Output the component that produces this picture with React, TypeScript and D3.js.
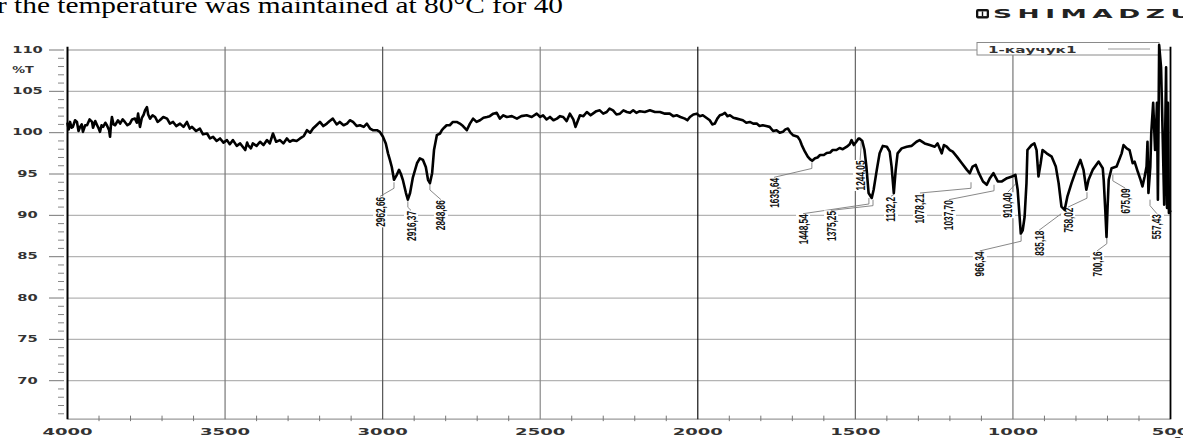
import React from 'react';
import * as d3 from 'd3';

const W = 1183;
const H = 438;

const captionText = 'r the temperature was maintained at 80°C for 40';
const brandText = 'SHIMADZU';
const legendText = '1-каучук1';
const yUnitText = '%T';
const xUnitText = 'cm-1';

const xMajorTicks = [4000, 3500, 3000, 2500, 2000, 1500, 1000, 500];
const yMajorTicks = [70, 75, 80, 85, 90, 95, 100, 105, 110];
const yTickLabels = ['70', '75', '80', '85', '90', '95', '100', '105', '110'];

// [wavenumber cm-1, transmittance %T]
const spectrum: [number, number][] = [
  [4000, 101.1], [3996, 100.4], [3992, 101.3], [3987, 100.6], [3983, 100.7], [3976, 101.5], [3970, 101.3],
  [3965, 100.2], [3960, 100.7], [3955, 101.0], [3951, 100.1], [3944, 100.9], [3938, 100.9], [3930, 101.6],
  [3922, 101.3], [3919, 100.6], [3912, 101.4], [3906, 100.9], [3901, 100.5], [3897, 100.1], [3892, 100.9],
  [3887, 100.7], [3880, 101.2], [3875, 100.9], [3868, 100.3], [3865, 99.5], [3862, 101.0], [3859, 101.9],
  [3854, 101.0], [3849, 100.9], [3840, 101.5], [3833, 101.1], [3825, 101.6], [3818, 101.3], [3810, 100.9],
  [3802, 101.1], [3795, 101.6], [3786, 101.7], [3780, 101.2], [3776, 102.3], [3773, 101.5], [3770, 100.7],
  [3764, 101.8], [3758, 102.2], [3754, 102.7], [3748, 103.1], [3744, 102.2], [3738, 101.7], [3730, 102.1],
  [3722, 101.9], [3714, 101.3], [3707, 101.5], [3696, 101.9], [3684, 101.7], [3675, 101.1], [3665, 101.3],
  [3655, 100.8], [3643, 101.1], [3632, 100.7], [3621, 101.3], [3612, 100.5], [3605, 100.7], [3592, 100.2],
  [3580, 100.5], [3570, 99.8], [3557, 99.9], [3548, 99.3], [3538, 99.5], [3527, 99.0], [3516, 99.3],
  [3505, 98.8], [3494, 99.1], [3485, 98.6], [3475, 99.1], [3463, 98.4], [3452, 98.7], [3444, 98.3],
  [3436, 97.9], [3430, 98.8], [3427, 98.5], [3418, 98.1], [3412, 98.7], [3400, 98.4], [3389, 98.9],
  [3378, 98.5], [3367, 99.1], [3358, 98.7], [3348, 99.9], [3338, 98.9], [3326, 99.1], [3315, 98.7],
  [3304, 99.3], [3295, 98.9], [3285, 99.1], [3273, 99.0], [3262, 99.3], [3250, 99.6], [3240, 100.3],
  [3230, 100.0], [3221, 100.5], [3210, 100.9], [3199, 101.3], [3188, 100.8], [3177, 101.1], [3168, 101.4],
  [3158, 101.7], [3146, 101.0], [3136, 101.3], [3124, 100.9], [3113, 101.1], [3104, 101.5], [3094, 101.3],
  [3082, 100.8], [3072, 100.9], [3060, 100.7], [3050, 101.1], [3040, 100.5], [3031, 100.3], [3018, 100.3],
  [3009, 100.1], [2999, 99.5], [2990, 98.7], [2983, 97.5], [2977, 96.7], [2971, 95.85], [2964, 94.3],
  [2955, 94.9], [2948, 95.5], [2942, 95.0], [2936, 94.3], [2926, 92.7], [2920, 91.9], [2913, 92.7],
  [2904, 94.6], [2891, 96.3], [2882, 96.9], [2872, 96.7], [2863, 95.85], [2856, 94.3], [2850, 93.9],
  [2843, 95.1], [2837, 97.9], [2828, 99.7], [2818, 99.9], [2812, 100.3], [2805, 100.6], [2797, 100.9],
  [2787, 100.9], [2777, 101.3], [2765, 101.3], [2755, 101.1], [2745, 100.8], [2733, 100.3], [2723, 101.1],
  [2713, 101.7], [2702, 101.3], [2691, 101.5], [2680, 101.8], [2669, 101.9], [2660, 102.0], [2649, 102.3],
  [2638, 102.4], [2628, 101.7], [2617, 102.1], [2606, 101.9], [2590, 102.0], [2574, 101.7], [2560, 102.0],
  [2543, 102.1], [2527, 101.9], [2511, 102.3], [2500, 101.9], [2491, 102.1], [2480, 101.6], [2469, 101.9],
  [2458, 101.5], [2447, 101.7], [2437, 102.0], [2427, 101.9], [2416, 101.4], [2406, 102.3], [2395, 101.6],
  [2388, 100.7], [2384, 101.1], [2374, 102.1], [2363, 102.0], [2352, 102.5], [2340, 102.1], [2333, 102.3],
  [2322, 102.6], [2311, 102.7], [2300, 102.3], [2289, 102.5], [2280, 102.9], [2269, 102.7], [2258, 102.2],
  [2247, 102.3], [2236, 102.7], [2225, 102.5], [2215, 102.4], [2205, 102.7], [2195, 102.4], [2184, 102.6],
  [2168, 102.5], [2152, 102.7], [2136, 102.5], [2120, 102.5], [2104, 102.3], [2089, 102.3], [2078, 102.0],
  [2067, 102.1], [2055, 101.9], [2041, 101.7], [2033, 101.5], [2025, 101.9], [2014, 102.2], [2003, 102.3],
  [1994, 102.0], [1984, 102.1], [1973, 101.8], [1962, 101.5], [1954, 101.0], [1946, 101.1], [1938, 101.7],
  [1930, 102.1], [1922, 102.2], [1914, 102.4], [1906, 102.0], [1898, 102.1], [1887, 101.8], [1876, 101.7],
  [1866, 101.6], [1857, 101.5], [1846, 101.2], [1835, 101.3], [1824, 101.1], [1813, 101.1], [1804, 100.8],
  [1794, 100.9], [1783, 100.8], [1772, 100.7], [1761, 100.2], [1750, 100.3], [1740, 100.0], [1730, 100.1],
  [1722, 100.4], [1714, 100.5], [1706, 100.0], [1698, 99.7], [1690, 99.6], [1683, 99.5], [1676, 99.1],
  [1670, 98.5], [1660, 97.7], [1651, 97.1], [1644, 96.8], [1637, 96.6], [1628, 96.9], [1620, 97.0],
  [1612, 97.3], [1600, 97.3], [1591, 97.55], [1580, 97.6], [1572, 97.9], [1560, 97.9], [1550, 98.15],
  [1540, 98.0], [1527, 98.3], [1518, 98.6], [1512, 99.1], [1505, 98.5], [1497, 98.9], [1490, 99.3],
  [1487, 99.3], [1478, 99.0], [1471, 97.9], [1465, 95.9], [1458, 92.7], [1448, 92.1], [1442, 93.1],
  [1432, 95.5], [1423, 97.5], [1413, 98.4], [1400, 98.3], [1391, 97.7], [1385, 95.9], [1378, 92.7],
  [1372, 95.5], [1366, 97.5], [1353, 98.1], [1337, 98.3], [1322, 98.4], [1306, 98.9], [1296, 99.1],
  [1280, 98.7], [1264, 98.5], [1248, 98.3], [1239, 98.7], [1226, 97.5], [1219, 98.5], [1210, 98.3],
  [1200, 97.9], [1191, 97.7], [1178, 97.1], [1162, 96.3], [1146, 95.5], [1137, 95.1], [1128, 95.9],
  [1118, 96.1], [1108, 95.1], [1095, 94.1], [1083, 93.7], [1073, 94.5], [1062, 95.1], [1048, 94.1],
  [1035, 94.1], [1019, 94.5], [1003, 94.7], [992, 94.9], [985, 93.1], [975, 87.8], [969, 88.2],
  [963, 89.8], [957, 93.9], [954, 97.9], [941, 98.5], [932, 98.7], [925, 97.9], [919, 94.7],
  [912, 96.3], [906, 97.9], [893, 97.5], [877, 97.1], [864, 95.9], [855, 93.9], [846, 91.05],
  [836, 90.65], [827, 92.3], [814, 93.9], [801, 95.3], [786, 96.7], [776, 95.5], [767, 93.1],
  [760, 94.3], [747, 95.5], [728, 96.5], [715, 95.7], [712, 94.3], [707, 90.65], [703, 87.4],
  [700, 90.65], [696, 94.3], [687, 95.7], [671, 95.9], [655, 97.5], [649, 98.5], [639, 98.1],
  [630, 97.9], [620, 96.3], [614, 96.5], [604, 95.3], [595, 94.3], [589, 93.5], [582, 94.7],
  [576, 95.9], [573, 98.9], [570, 92.7], [564, 95.9], [561, 100.0], [555, 103.6], [549, 97.9],
  [546, 100.0], [543, 103.6], [540, 91.9], [536, 110.6], [530, 107.9], [527, 103.3], [520, 91.3],
  [514, 107.9], [511, 90.9], [508, 103.6], [505, 90.3], [501, 90.5],
];

// [label, label centre wn, label top %T, peak wn, peak %T]
const peakLabels: [string, number, number, number, number][] = [
  ['2962,66', 3008, 92.3, 2964, 94.0],
  ['2916,37', 2910, 90.6, 2920, 91.7],
  ['2848,86', 2815, 91.9, 2850, 93.8],
  ['1635,64', 1758, 94.6, 1638, 96.4],
  ['1448,54', 1666, 90.2, 1457, 92.1],
  ['1375,25', 1577, 90.6, 1444, 91.9],
  ['1244,05', 1485, 96.7, 1482, 98.9],
  ['1132,2', 1387, 92.3, 1377, 92.7],
  ['1078,21', 1295, 92.7, 1133, 94.0],
  ['1037,70', 1203, 91.9, 1060, 93.7],
  ['910,40', 1016, 92.8, 990, 94.6],
  ['966,34', 1105, 85.7, 974, 87.6],
  ['835,18', 917, 88.2, 844, 91.0],
  ['758,02', 825, 91.0, 765, 92.8],
  ['700,16', 733, 85.7, 702, 87.3],
  ['675,09', 644, 93.3, 683, 94.9],
  ['557,43', 543, 90.2, 565, 91.9],
];

const gridColor: Record<number, string> = {
  4000: '#000', 3500: '#777', 3000: '#555', 2500: '#888', 2000: '#111', 1500: '#666', 1000: '#777', 500: '#000',
};

export default function App() {
  const x = d3.scaleLinear().domain([4000, 500]).range([67.5, 1170.5]);
  const y = d3.scaleLinear().domain([70, 110]).range([380.7, 50]);
  const yBottom = 65.35;
  const yTop = 110.4;
  const plotBottom = y(yBottom);
  const plotTop = y(yTop);

  const line = d3
    .line<[number, number]>()
    .x((d) => x(d[0]))
    .y((d) => y(d[1]))
    .curve(d3.curveLinear);

  const minorY = d3.range(66, 111, 1).filter((v) => v % 5 !== 0);
  const minorX = d3.range(4000, 499, -100).filter((v) => v % 500 !== 0);

  const extFont = "'DejaVu Sans', Verdana, sans-serif";

  return (
    <svg
      width={W}
      height={H}
      viewBox={`0 0 ${W} ${H}`}
      style={{ position: 'absolute', left: 0, top: 0, background: '#fff' }}
    >
      <rect x={0} y={0} width={W} height={H} fill="#fff" />
      {/* caption text cut at top */}
      <text
        x={-3}
        y={13}
        fontFamily="'Liberation Serif', 'Times New Roman', serif"
        fontSize={24}
        fill="#000"
        textLength={566}
        lengthAdjust="spacingAndGlyphs"
      >
        {captionText}
      </text>

      {/* brand */}
      <g>
        <rect x={976} y={9} width={13} height={9.5} rx={2} fill="#111" />
        <rect x={978.3} y={11.4} width={8.4} height={4.7} fill="#fff" />
        <line x1={982.5} x2={982.5} y1={11.4} y2={16.1} stroke="#111" strokeWidth={1.4} />
        <text
          transform={`translate(993,18.3) scale(2.3,1)`}
          fontFamily={extFont}
          fontWeight="bold"
          fontSize={11.5}
          fill="#222"
          letterSpacing={2.4}
        >
          {brandText}
        </text>
      </g>

      {/* horizontal grid */}
      {yMajorTicks.map((v) => (
        <line key={'hg' + v} x1={x(4000)} x2={x(500)} y1={y(v)} y2={y(v)} stroke="#b4b4b4" strokeWidth={1.3} />
      ))}
      {/* bottom axis line */}
      <line x1={x(4000)} x2={x(500)} y1={plotBottom} y2={plotBottom} stroke="#9a9a9a" strokeWidth={1.4} />

      {/* vertical grid */}
      {xMajorTicks.map((v) => (
        <line
          key={'vg' + v}
          x1={x(v)}
          x2={x(v)}
          y1={plotTop}
          y2={plotBottom}
          stroke={gridColor[v]}
          strokeWidth={v === 4000 ? 2 : v === 500 ? 1.8 : 1.2}
        />
      ))}

      {/* x minor ticks */}
      {minorX.map((v) => (
        <line key={'mx' + v} x1={x(v)} x2={x(v)} y1={plotBottom - 3.5} y2={plotBottom + 2} stroke="#777" strokeWidth={1} />
      ))}
      {/* y ticks */}
      {yMajorTicks.map((v) => (
        <line key={'my' + v} x1={49} x2={64} y1={y(v)} y2={y(v)} stroke="#777" strokeWidth={1} />
      ))}
      {minorY.map((v) => (
        <line key={'ny' + v} x1={58} x2={64} y1={y(v)} y2={y(v)} stroke="#888" strokeWidth={1} />
      ))}

      {/* y tick labels */}
      {yMajorTicks.map((v, i) => (
        <text
          key={'yl' + v}
          transform={`translate(27.5,${y(v)}) scale(1.75,1)`}
          textAnchor="middle"
          dominantBaseline="central"
          fontFamily={extFont}
          fontWeight="bold"
          fontSize={8.4}
          fill="#333"
        >
          {yTickLabels[i]}
        </text>
      ))}
      <text
        transform={`translate(23,${y(107.5)}) scale(1.6,1)`}
        textAnchor="middle"
        dominantBaseline="central"
        fontFamily={extFont}
        fontWeight="bold"
        fontSize={8}
        fill="#333"
      >
        {yUnitText}
      </text>

      {/* x tick labels */}
      {xMajorTicks.map((v) => (
        <text
          key={'xl' + v}
          transform={`translate(${x(v)},435) scale(2.05,1)`}
          textAnchor="middle"
          fontFamily={extFont}
          fontWeight="bold"
          fontSize={8.8}
          fill="#333"
        >
          {v}
        </text>
      ))}
      <text
        transform={`translate(1163,444) scale(1.7,1)`}
        textAnchor="middle"
        fontFamily={extFont}
        fontWeight="bold"
        fontSize={9}
        fill="#333"
      >
        {xUnitText}
      </text>

      {/* legend */}
      <rect x={977} y={42.5} width={182} height={12.5} fill="#fff" stroke="#8a8a8a" strokeWidth={1} />
      <text
        transform={`translate(988,52.5) scale(1.9,1)`}
        fontFamily={extFont}
        fontWeight="bold"
        fontSize={8}
        fill="#333"
      >
        {legendText}
      </text>
      <line x1={1108} x2={1150} y1={49} y2={49} stroke="#999" strokeWidth={1.2} />

      {/* peak labels */}
      {peakLabels.map(([t, lw, lt, pw, pt]) => {
        const lx = x(lw);
        const ly = y(lt);
        const px = x(pw);
        const py = y(pt);
        const len = t.length >= 7 ? 30 : 25;
        const elbow = Math.min(py + 6, ly - 2);
        return (
          <g key={'pl' + t}>
            <rect x={lx - 7} y={ly} width={14} height={len + 1} fill="#fff" />
            <path
              d={`M${px},${py}L${px},${elbow}L${lx},${ly}`}
              fill="none"
              stroke="#7a7a7a"
              strokeWidth={0.9}
            />
            <text
              transform={`translate(${lx},${ly + 0.5}) rotate(-90)`}
              textAnchor="end"
              dominantBaseline="central"
              fontFamily="'Liberation Sans Narrow', 'Liberation Sans', Arial, sans-serif"
              fontSize={13.5}
              fontWeight="bold"
              fill="#111"
              textLength={len}
              lengthAdjust="spacingAndGlyphs"
            >
              {t}
            </text>
          </g>
        );
      })}

      {/* spectrum */}
      <path
        d={line(spectrum) || ''}
        fill="none"
        stroke="#000"
        strokeWidth={2.6}
        strokeLinejoin="round"
        strokeLinecap="round"
      />
    </svg>
  );
}
